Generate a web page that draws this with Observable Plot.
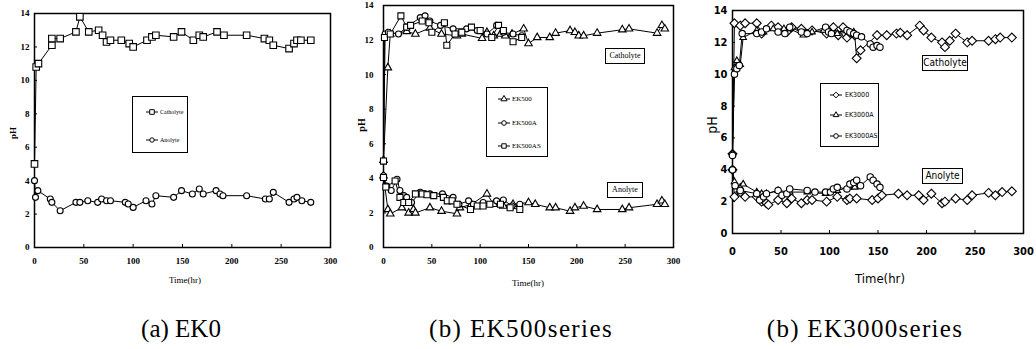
<!DOCTYPE html>
<html><head><meta charset="utf-8">
<script src="https://cdn.jsdelivr.net/npm/d3@7"></script>
<script src="https://cdn.jsdelivr.net/npm/@observablehq/plot@0.6"></script>
<style>
body{margin:0;background:#fff;}
#root{position:relative;width:1036px;height:349px;overflow:hidden;background:#fff;}
.pane{position:absolute;top:0;}
.lbl{position:absolute;white-space:nowrap;line-height:1;color:#000;}
.box{position:absolute;border:1.3px solid #000;background:#fff;box-sizing:border-box;}
svg{overflow:visible;}
</style></head><body><div id="root"></div>
<script>
// ---------- data: [time (hr), pH] ----------
const xTicks = [0, 50, 100, 150, 200, 250, 300];
const yTicks = [0, 2, 4, 6, 8, 10, 12, 14];

// (a) EK0
const ek0Catholyte = [[0,5.0],[1.7,10.8],[4,11.0],[17.6,12.1],[17.6,12.5],[26,12.5],[42,12.9],[46,13.8],[55,12.9],[65,13.0],[69,12.7],[73,12.3],[77,12.4],[88,12.4],[96,12.2],[100,12.0],[114,12.4],[119,12.6],[123,12.7],[141,12.6],[149,12.9],[161,12.4],[167,12.7],[171,12.6],[185,12.9],[192,12.7],[215,12.7],[233,12.5],[238,12.4],[242,12.1],[258,11.9],[263,12.2],[266,12.4],[270,12.4],[280,12.4]];
const ek0Anolyte = [[0,4.0],[1,3.0],[3.4,3.4],[16,2.9],[17.6,2.7],[26,2.2],[42,2.7],[46,2.7],[54,2.8],[64,2.7],[68,2.9],[73,2.8],[77,2.8],[92,2.7],[95,2.6],[100,2.4],[113,2.8],[119,2.6],[123,3.1],[141,3.0],[149,3.4],[160,3.2],[167,3.5],[171,3.2],[184,3.4],[188,3.2],[191,3.1],[215,3.1],[234,2.9],[238,2.9],[242,3.3],[258,2.7],[263,2.9],[266,3.0],[271,2.8],[280,2.7]];

// (b) EK500 series
const ek500Catholyte = [[0,5.05],[4.5,10.4],[7,12.35],[24,12.5],[33,12.35],[48,12.7],[60,12.35],[76,12.25],[81,12.35],[102,12.1],[107,12.45],[114,12.25],[121,12.35],[126,12.25],[133,12.35],[145,12.65],[150,11.8],[159,12.15],[172,12.15],[178,12.4],[193,12.55],[198,12.45],[202,12.25],[207,12.25],[221,12.4],[247,12.6],[254,12.65],[283,12.4],[288,12.85],[291,12.65]];
const ek500ACatholyte = [[0,5.0],[1.7,12.35],[5,12.45],[15.5,12.35],[24,12.75],[38,13.3],[43,13.4],[48,13.1],[59,12.85],[72,12.65],[86,12.65],[97,12.55],[107,12.35],[117,12.85],[124,12.45],[134,12.35],[143,12.25]];
const ek500ASCatholyte = [[0,5.0],[1,12.15],[7,12.35],[18,13.4],[24,12.75],[28,12.85],[40,13.1],[47,13.0],[50,12.45],[63,13.0],[65.5,11.7],[74,12.35],[81,12.45],[91,12.75],[100,12.55],[112,12.15],[119,12.85],[124,12.55],[134,11.9],[143,12.15]];
const ek500Anolyte = [[0,4.15],[4.5,2.2],[7,1.95],[19,2.3],[26,2.0],[31,2.2],[33,2.0],[48,2.3],[60,2.1],[76,1.95],[79,2.3],[91,2.5],[107,3.1],[114,2.5],[124,2.4],[134,2.5],[150,2.6],[157,2.5],[172,2.3],[178,2.3],[193,2.1],[198,2.3],[207,2.4],[221,2.2],[247,2.2],[254,2.3],[283,2.5],[288,2.7],[291,2.5]];
const ek500AAnolyte = [[0,4.15],[3.4,3.55],[8,3.3],[14,3.95],[17,3.3],[21,3.0],[24,2.9],[29,2.6],[38,3.2],[43,3.1],[48,3.1],[61,3.1],[72,2.9],[78,2.5],[88,2.7],[93,2.5],[103,2.6],[117,2.7],[124,2.75],[133,2.4],[141,2.5]];
const ek500ASAnolyte = [[0,4.05],[2.4,3.5],[12,3.85],[17,2.9],[21,2.6],[26,2.6],[33,3.1],[40,3.1],[45,3.05],[52,3.0],[62,2.9],[66,2.7],[71,2.7],[76,2.5],[90,2.2],[97,2.4],[103,2.4],[110,2.5],[121,2.5],[131,2.3],[141,2.2]];

// (b) EK3000 series
const ek3000Catholyte = [[0,5.0],[2,13.2],[8,13.05],[13,13.2],[25,13.2],[30,12.55],[40,13.05],[47,12.95],[56,12.65],[61,12.95],[71,12.85],[82,12.75],[97,12.55],[104,12.95],[109,12.45],[114,12.95],[118,12.3],[121,12.6],[126,12.45],[128,11.0],[132,11.5],[149,12.45],[159,12.45],[169,12.55],[173,12.6],[180,12.45],[193,13.05],[197,12.75],[205,12.3],[216,12.0],[219,11.7],[224,12.1],[230,12.55],[242,12.0],[247,12.1],[264,12.1],[271,12.2],[276,12.3],[288,12.3]];
const ek3000ACatholyte = [[0,5.0],[2,10.4],[4.5,10.85],[8,10.6],[11,12.3],[25,12.75],[32,12.65],[42,12.85],[53,12.85],[59,12.85],[73,12.45],[82,12.65],[94,12.75],[101,12.65],[108,12.55],[120,12.65],[125,12.65]];
const ek3000ASCatholyte = [[0,4.9],[2,10.0],[4.5,10.35],[7,10.55],[10,12.55],[25,12.55],[30,12.65],[35,12.85],[47,12.65],[54,12.55],[59,12.95],[71,12.65],[77,12.55],[96,12.95],[99,12.65],[102,12.55],[118,12.75],[121,12.65],[125,12.55],[128,12.45],[133,12.35],[142,11.9],[145,11.7],[149,11.8],[152,11.7]];
const ek3000Anolyte = [[0,4.0],[2,2.3],[8,2.6],[13,2.3],[25,2.3],[30,2.0],[35,1.9],[37,1.8],[47,2.1],[56,1.9],[61,2.2],[71,1.9],[77,2.1],[82,2.1],[97,2.0],[108,2.3],[118,2.1],[121,2.2],[128,2.2],[144,2.1],[150,2.2],[154,2.4],[171,2.5],[180,2.4],[192,2.4],[197,2.1],[205,2.5],[216,1.9],[219,2.0],[230,2.2],[242,2.1],[247,2.4],[264,2.55],[271,2.4],[278,2.6],[288,2.65]];
const ek3000AAnolyte = [[0,4.0],[2,3.25],[8,2.9],[11,3.1],[25,2.6],[30,2.5],[35,2.5],[47,2.7],[59,2.6],[77,2.6],[96,2.5],[108,2.7],[120,2.9],[126,2.9]];
const ek3000ASAnolyte = [[0,4.0],[2.7,3.0],[8,2.7],[25,2.5],[28,2.1],[32,2.3],[35,2.5],[47,2.7],[51,2.4],[56,2.5],[59,2.8],[77,2.7],[85,2.6],[96,2.6],[101,2.6],[104,2.8],[108,2.9],[118,2.8],[121,3.1],[125,3.2],[128,3.35],[132,3.0],[142,3.55],[145,3.35],[149,3.1],[152,2.9]];

const captions = ["(a) EK0", "(b) EK500series", "(b) EK3000series"];
const legend500 = ["EK500", "EK500A", "EK500AS"];
const legend3000 = ["EK3000", "EK3000A", "EK3000AS"];

// ---------- drawing ----------
const root = document.getElementById("root");
const SERIF = "'Liberation Serif','Times New Roman',serif";
const NARROW = "'DejaVu Sans Condensed','Liberation Sans Narrow','Liberation Sans',Arial,sans-serif";
const symbolTypes = {circle: d3.symbolCircle, square: d3.symbolSquare, triangle: d3.symbolTriangle, diamond2: d3.symbolDiamond2};

function panel(cfg) {
  const marks = [
    Plot.frame({stroke: "black", strokeWidth: 1.5}),
    Plot.axisX({ticks: xTicks, tickSize: -3, tickPadding: cfg.xPad, label: null, tickFormat: d => String(d)}),
    Plot.axisY({ticks: yTicks, tickSize: -3, tickPadding: cfg.yPad, label: null, tickFormat: d => String(d)})
  ];
  for (const s of cfg.series) marks.push(Plot.line(s.data, {x: d => d[0], y: d => d[1], stroke: "black", strokeWidth: 1}));
  for (const s of cfg.series) marks.push(Plot.dot(s.data, {x: d => d[0], y: d => d[1], symbol: s.symbol, r: s.r, fill: "white", stroke: "black", strokeWidth: 1.1}));
  const svg = Plot.plot({
    width: cfg.width, height: 300,
    marginLeft: cfg.ml, marginRight: cfg.mr, marginTop: cfg.mt, marginBottom: cfg.mb,
    x: {domain: [0, 300]}, y: {domain: [0, 14]},
    style: {fontFamily: cfg.tickFont, fontSize: cfg.tickSize + "px", fontWeight: cfg.tickWeight, fontStretch: cfg.stretch || "normal", background: "transparent", color: "black"},
    marks
  });
  const div = document.createElement("div");
  div.className = "pane";
  div.style.left = cfg.left + "px";
  div.appendChild(svg);
  root.appendChild(div);
}

function text(str, cx, cy, css, rot) {
  const d = document.createElement("div");
  d.className = "lbl";
  d.textContent = str;
  d.style.left = cx + "px"; d.style.top = cy + "px";
  d.style.transform = "translate(-50%,-50%)" + (rot ? " rotate(" + rot + "deg)" : "");
  Object.assign(d.style, css);
  root.appendChild(d);
  return d;
}
function textLeft(str, x, cy, css) {
  const d = document.createElement("div");
  d.className = "lbl";
  d.textContent = str;
  d.style.left = x + "px"; d.style.top = cy + "px";
  d.style.transform = "translate(0,-50%)";
  Object.assign(d.style, css);
  root.appendChild(d);
}
function box(x0, y0, x1, y1) {
  const d = document.createElement("div");
  d.className = "box";
  Object.assign(d.style, {left: x0 + "px", top: y0 + "px", width: (x1 - x0) + "px", height: (y1 - y0) + "px"});
  root.appendChild(d);
}
function swatch(sym, r, cx, cy) {
  const ns = "http://www.w3.org/2000/svg";
  const s = document.createElementNS(ns, "svg");
  s.setAttribute("width", 16); s.setAttribute("height", 12);
  Object.assign(s.style, {position: "absolute", left: (cx - 8) + "px", top: (cy - 6) + "px"});
  const l = document.createElementNS(ns, "line");
  l.setAttribute("x1", 2); l.setAttribute("x2", 14); l.setAttribute("y1", 6); l.setAttribute("y2", 6);
  l.setAttribute("stroke", "black"); l.setAttribute("stroke-width", 1);
  s.appendChild(l);
  const p = document.createElementNS(ns, "path");
  p.setAttribute("d", d3.symbol(symbolTypes[sym], Math.PI * r * r)());
  p.setAttribute("transform", "translate(8,6)");
  p.setAttribute("fill", "white"); p.setAttribute("stroke", "black");
  s.appendChild(p);
  root.appendChild(s);
}

// Panel (a)
panel({left: 0, width: 345, ml: 34, mr: 15, mt: 13, mb: 53, xPad: 13, yPad: 8,
  tickFont: SERIF, tickSize: 9, tickWeight: "bold",
  series: [{data: ek0Catholyte, symbol: "square", r: 3.7}, {data: ek0Anolyte, symbol: "circle", r: 3}]});
// Panel (b) EK500
panel({left: 340, width: 345, ml: 43, mr: 12, mt: 5, mb: 53, xPad: 13, yPad: 13,
  tickFont: SERIF, tickSize: 9, tickWeight: "bold",
  series: [
    {data: ek500Catholyte, symbol: "triangle", r: 2.8}, {data: ek500ACatholyte, symbol: "circle", r: 3}, {data: ek500ASCatholyte, symbol: "square", r: 3.4},
    {data: ek500Anolyte, symbol: "triangle", r: 2.8}, {data: ek500AAnolyte, symbol: "circle", r: 3}, {data: ek500ASAnolyte, symbol: "square", r: 3.4}]});
// Panel (b) EK3000
panel({left: 690, width: 346, ml: 42, mr: 13, mt: 10, mb: 67, xPad: 17, yPad: 8,
  tickFont: NARROW, tickSize: 11, tickWeight: "bold", stretch: "condensed",
  series: [
    {data: ek3000Catholyte, symbol: "diamond2", r: 4}, {data: ek3000ACatholyte, symbol: "triangle", r: 2.4}, {data: ek3000ASCatholyte, symbol: "circle", r: 3.2},
    {data: ek3000Anolyte, symbol: "diamond2", r: 4}, {data: ek3000AAnolyte, symbol: "triangle", r: 2.4}, {data: ek3000ASAnolyte, symbol: "circle", r: 3.2}]});

// axis titles
const serifSmall = {fontFamily: SERIF, fontSize: "9px"};
text("Time(hr)", 185, 280, serifSmall);
text("pH", 13, 133, {fontFamily: SERIF, fontSize: "9px", fontWeight: "bold"}, -90);
text("Time(hr)", 528, 283, serifSmall);
text("pH", 362, 125, {fontFamily: SERIF, fontSize: "10px", fontWeight: "bold"}, -90);
text("Time(hr)", 880, 278, {fontFamily: NARROW, fontSize: "13px", fontStretch: "condensed"});
text("pH", 712, 125, {fontFamily: NARROW, fontSize: "14px", fontStretch: "condensed"}, -90);

// legends
box(132, 96, 188, 153);
swatch("square", 2.6, 152, 112); textLeft("Catholyte", 160, 112, {fontFamily: SERIF, fontSize: "6px"});
swatch("circle", 2.2, 152, 140); textLeft("Anolyte", 160, 140, {fontFamily: SERIF, fontSize: "6px"});

box(486, 87, 548, 157);
[["triangle", 2.3], ["circle", 2.3], ["square", 2.5]].forEach(([s, r], i) => {
  const y = [99, 123, 146][i];
  swatch(s, r, 504, y); textLeft(legend500[i], 512, y, {fontFamily: SERIF, fontSize: "7px"});
});
box(820, 83, 879, 147);
[["diamond2", 2.6], ["triangle", 2.1], ["circle", 2.3]].forEach(([s, r], i) => {
  const y = [95, 115, 136][i];
  swatch(s, r, 836, y); textLeft(legend3000[i], 845, y, {fontFamily: NARROW, fontSize: "7px", fontStretch: "condensed"});
});

// series labels
box(605, 48, 645, 64); text("Catholyte", 625, 56, {fontFamily: SERIF, fontSize: "8px"});
box(607, 182, 643, 198); text("Anolyte", 625, 190, {fontFamily: SERIF, fontSize: "8px"});
box(922, 55, 968, 71); text("Catholyte", 945, 63, {fontFamily: NARROW, fontSize: "10px", fontStretch: "condensed"});
box(922, 168, 963, 184); text("Anolyte", 942.5, 176, {fontFamily: NARROW, fontSize: "10px", fontStretch: "condensed"});

// captions
text(captions[0], 181, 328, {fontFamily: SERIF, fontSize: "25px"});
text(captions[1], 521, 328, {fontFamily: SERIF, fontSize: "25px", letterSpacing: "1.4px"});
text(captions[2], 865, 328, {fontFamily: SERIF, fontSize: "25px", letterSpacing: "1.3px"});
</script></body></html>
